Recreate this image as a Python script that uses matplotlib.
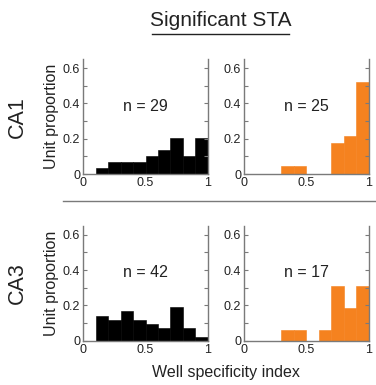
"""
Histogramme des Well-Specificity-Index (signifikante STA), CA1/CA3.
"""

import numpy as np
import matplotlib

matplotlib.use("Agg")
import matplotlib.pyplot as plt
from matplotlib.ticker import MultipleLocator

plt.rcParams["font.family"] = ["Liberation Sans", "DejaVu Sans"]

# ----------------------------------------------------------------------
# Daten
# ----------------------------------------------------------------------

bin_edges = [0.0, 0.1, 0.2, 0.3, 0.4, 0.5, 0.6, 0.7, 0.8, 0.9, 1.0]

ca1_black = [0.0, 0.0345, 0.069, 0.069, 0.069, 0.1034, 0.1379, 0.2069, 0.1034, 0.2069]
ca1_orange = [0.0, 0.0, 0.0, 0.0435, 0.0435, 0.0, 0.0, 0.1739, 0.2174, 0.5217]
ca3_black = [0.0, 0.1429, 0.119, 0.1667, 0.119, 0.0952, 0.0714, 0.1905, 0.0714, 0.0238]
ca3_orange = [0.0, 0.0, 0.0, 0.0625, 0.0625, 0.0, 0.0625, 0.3125, 0.1875, 0.3125]

n_labels = [["n = 29", "n = 25"], ["n = 42", "n = 17"]]
row_labels = ["CA1", "CA3"]

COL_BLACK = "black"
COL_ORANGE = "#F5821F"
AX_GRAY = "#7a7a7a"
TXT = "#222222"


def style_axis(ax):
    ax.set_xlim(0, 1)
    ax.set_ylim(0, 0.65)
    ax.spines["top"].set_visible(False)
    for s in ("left", "right", "bottom"):
        ax.spines[s].set_color(AX_GRAY)
        ax.spines[s].set_linewidth(1.0)
    ax.set_xticks([0, 0.5, 1])
    ax.set_xticklabels(["0", "0.5", "1"])
    ax.set_yticks([0, 0.2, 0.4, 0.6])
    ax.set_yticklabels(["0", "0.2", "0.4", "0.6"])
    ax.yaxis.set_minor_locator(MultipleLocator(0.1))
    ax.tick_params(axis="y", which="both", direction="in", right=True,
                   length=3, width=0.8, color=AX_GRAY, labelsize=9,
                   labelcolor=TXT, pad=2)
    ax.tick_params(axis="x", which="both", direction="in", length=0,
                   labelsize=9, labelcolor=TXT, pad=2)


def draw(ax, heights, color, label, ytxt):
    edges = np.asarray(bin_edges)
    ax.bar(edges[:-1], heights, width=np.diff(edges), align="edge",
           color=color, edgecolor=color, linewidth=0.4)
    ax.text(0.5, ytxt, label, ha="center", va="center",
            fontsize=11.5, color=TXT)
    style_axis(ax)


fig = plt.figure(figsize=(3.76, 3.85), dpi=100)

lefts = [0.221, 0.649]
bottoms = [0.548, 0.115]
w, h = 0.332, 0.298

data = [[ca1_black, ca1_orange], [ca3_black, ca3_orange]]
colors = [COL_BLACK, COL_ORANGE]

for r in range(2):
    for c in range(2):
        ax = fig.add_axes([lefts[c], bottoms[r], w, h])
        draw(ax, data[r][c], colors[c], n_labels[r][c], 0.385)
        if c == 0:
            ax.set_ylabel("Unit proportion", fontsize=11.5, color=TXT,
                          labelpad=3)
    fig.text(0.047, bottoms[r] + h / 2, row_labels[r], rotation=90,
             ha="center", va="center", fontsize=15.5, color=TXT)

# Trennlinie zwischen den Zeilen
fig.add_artist(plt.Line2D([0.168, 0.997], [1 - 200.7 / 385] * 2,
                          color=AX_GRAY, linewidth=1.0))

# Titel, unterstrichen
fig.text(0.586, 1 - 20 / 385, "Significant STA", ha="center",
         va="center", fontsize=15, color=TXT)
fig.add_artist(plt.Line2D([0.404, 0.768], [1 - 33.5 / 385] * 2,
                          color=TXT, linewidth=1.0))

fig.text(0.6, 1 - 373 / 385, "Well specificity index", ha="center",
         va="center", fontsize=11.5, color=TXT)

fig.savefig("out.png", dpi=100)
